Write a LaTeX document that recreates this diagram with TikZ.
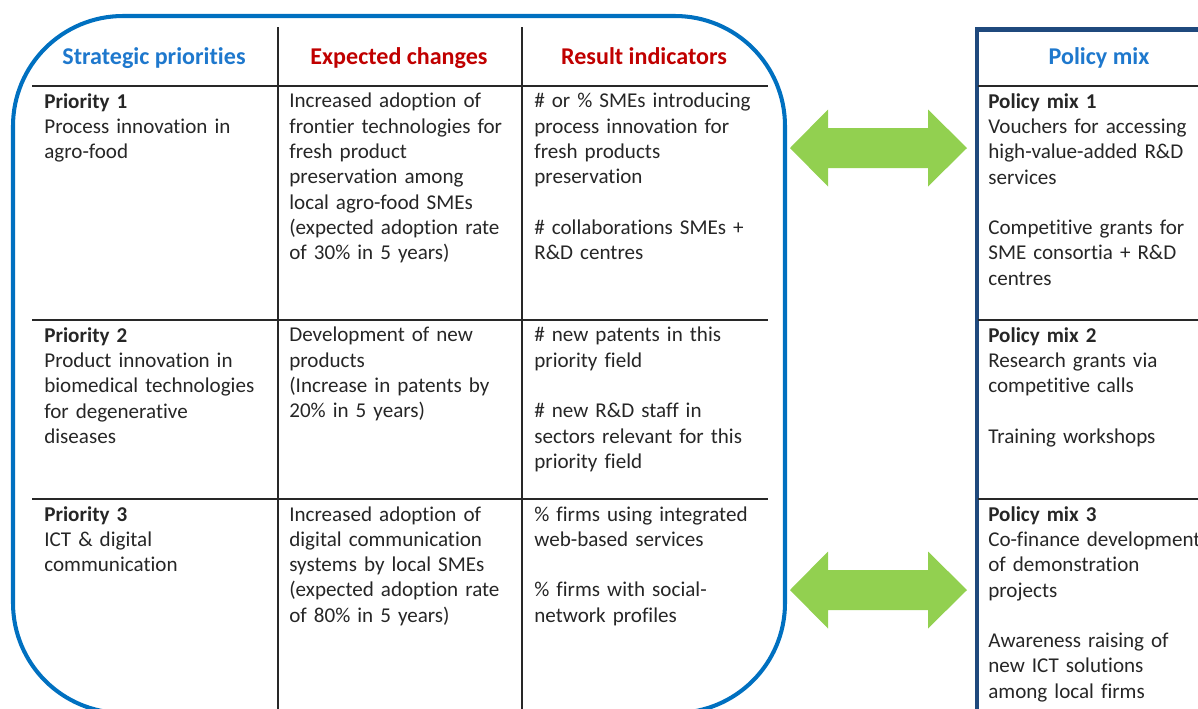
\documentclass[tikz,border=0pt]{standalone}
\usepackage{fontspec}
\setmainfont{Carlito}[Ligatures={NoCommon}]
\definecolor{frameblue}{RGB}{0,112,192}
\definecolor{headblue}{RGB}{30,120,205}
\definecolor{headred}{RGB}{192,0,0}
\definecolor{mixnavy}{RGB}{31,73,125}
\definecolor{arrowgreen}{RGB}{146,208,80}
\definecolor{rulegray}{RGB}{40,40,40}
\tikzset{
  cell/.style={anchor=north west, align=left, inner sep=0pt, text width=5cm,
    font=\fontsize{12}{14.4}\selectfont, text=black!85},
  head/.style={anchor=base, inner sep=0pt, font=\fontsize{13.7}{16}\selectfont\bfseries},
  rule/.style={draw=rulegray, line width=0.8pt}
}
\begin{document}
\begin{tikzpicture}[x=0.02cm,y=-0.02cm]
\useasboundingbox (0,0) rectangle (1198,708);
\begin{scope}
\clip (0,0) rectangle (1198,708);
% frames
\draw[frameblue, line width=2.3pt, rounded corners=2.2cm] (13,16) rectangle (785,713);
\draw[mixnavy, line width=2.6pt] (977,710) -- (977,29.5) -- (1200,29.5);
% grid lines
\coordinate (va) at (278,27);
\coordinate (vb) at (522,27);
\draw[rule] (va) -- (278,710);
\draw[rule] (vb) -- (522,710);
\foreach \ry in {86,320,499} {
  \draw[rule] (32,\ry) -- (768,\ry);
  \draw[rule] (978,\ry) -- (1200,\ry);
}
% headers
\node[head, text=headblue] (hsp) at (154,64) {Strategic priorities};
\node[head, text=headred] (hec) at (399,64) {Expected changes};
\node[head, text=headred] (hri) at (644,64) {Result indicators};
\node[head, text=headblue] (hpm) at (1099,64) {Policy mix};
% row 1
\node[cell] (p1) at (44,93) {\textbf{Priority 1}\\Process innovation in\\agro-food};
\node[cell] (c1) at (289,93) {Increased adoption of\\frontier technologies for\\fresh product\\preservation among\\local agro-food SMEs\\(expected adoption rate\\of 30\% in 5 years)};
\node[cell] (r1) at (534,93) {\# or \% SMEs introducing\\process innovation for\\fresh products\\preservation\\[14.4pt]\# collaborations SMEs +\\R\&D centres};
\node[cell] (m1) at (988,93) {\textbf{Policy mix 1}\\Vouchers for accessing\\high-value-added R\&D\\services\\[14.4pt]Competitive grants for\\SME consortia + R\&D\\centres};
% row 2
\node[cell] (p2) at (44,327) {\textbf{Priority 2}\\Product innovation in\\biomedical technologies\\for degenerative\\diseases};
\node[cell] (c2) at (289,327) {Development of new\\products\\(Increase in patents by\\20\% in 5 years)};
\node[cell] (r2) at (534,327) {\# new patents in this\\priority field\\[14.4pt]\# new R\&D staff in\\sectors relevant for this\\priority field};
\node[cell] (m2) at (988,327) {\textbf{Policy mix 2}\\Research grants via\\competitive calls\\[14.4pt]Training workshops};
% row 3
\node[cell] (p3) at (44,506) {\textbf{Priority 3}\\ICT \& digital\\communication};
\node[cell] (c3) at (289,506) {Increased adoption of\\digital communication\\systems by local SMEs\\(expected adoption rate\\of 80\% in 5 years)};
\node[cell] (r3) at (534,506) {\% firms using integrated\\web-based services\\[14.4pt]\% firms with social-\\network profiles};
\node[cell] (m3) at (988,506) {\textbf{Policy mix 3}\\Co-finance development\\of demonstration\\projects\\[14.4pt]Awareness raising of\\new ICT solutions\\among local firms};
% green double arrows
\foreach \cy in {148,590}
  \fill[arrowgreen] (790,\cy) -- ++(38,-38.5) -- ++(0,18.5) -- (928,\cy-20) -- ++(0,-18.5)
    -- (967,\cy) -- ++(-39,38.5) -- ++(0,-18.5) -- (828,\cy+20) -- ++(0,18.5) -- cycle;
\end{scope}
\end{tikzpicture}
\end{document}
